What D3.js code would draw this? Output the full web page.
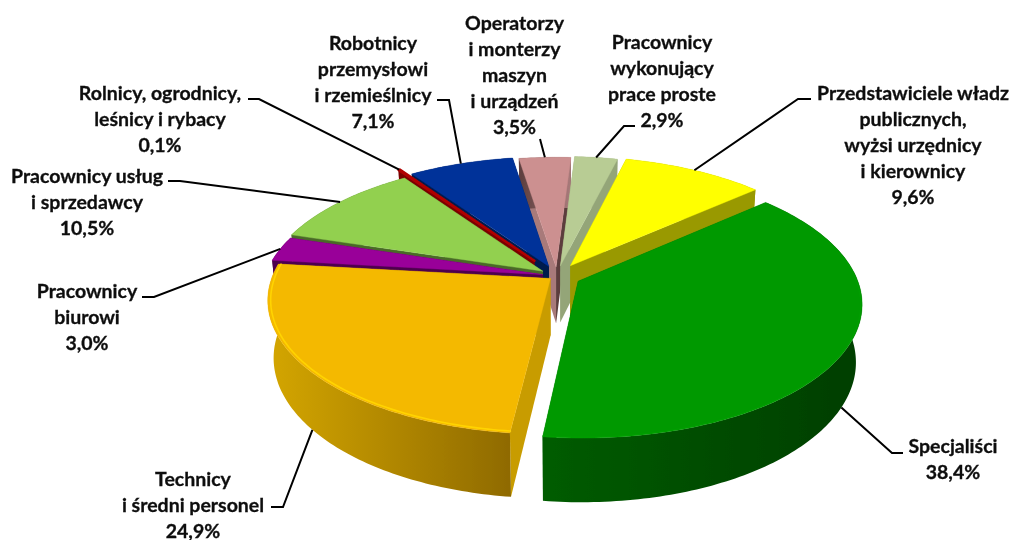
<!DOCTYPE html>
<html><head><meta charset="utf-8">
<style>html,body{margin:0;padding:0;background:#fff}svg{display:block}text{font-family:Lato,"Open Sans",sans-serif;font-weight:700;fill:#0d0d0d;stroke:#0d0d0d;stroke-width:.3px}</style>
<script src="https://cdnjs.cloudflare.com/ajax/libs/d3/7.8.5/d3.min.js"></script>
</head><body><svg id="c" width="1012" height="540"></svg>
<script>
const categories=["Przedstawiciele władz publicznych, wyżsi urzędnicy i kierownicy","Specjaliści","Technicy i średni personel","Pracownicy biurowi","Pracownicy usług i sprzedawcy","Rolnicy, ogrodnicy, leśnicy i rybacy","Robotnicy przemysłowi i rzemieślnicy","Operatorzy i monterzy maszyn i urządzeń","Pracownicy wykonujący prace proste"];
const values=[9.6,38.4,24.9,3.0,10.5,0.1,7.1,3.5,2.9];
const explode=[0.094,0.085,0.03,0.052,0.063,0.145,0.08,0.07,0.08];
const topColors=["#ffff00","#009900","#f4b900","#990099","#92d050","#b00000","#003399","#cc9090","#b8cc94"];
const sideStart=["#999900","#006600","#c89c00","#4d004d","#4a6a28","#7a0000","#001a4d","#a87a7a","#94a578"];
const sideEnd=["#999900","#006600","#c89c00","#4d004d","#4a6a28","#7a0000","#001a4d","#5b3d3d","#94a578"];
const wallLeft=["#999900","#005c00","#d4a600","#4d004d","#4a6a28","#7a0000","#001a4d","#5b3d3d","#94a578"];
const wallRight=["#999900","#003e00","#8f6a00","#4d004d","#4a6a28","#7a0000","#001a4d","#a87a7a","#94a578"];
const rimColors=[null,"#00a000","#ffd400",null,null,null,null,null,null];
const paintOrder=[7,8,0,1,6,5,4,3,2];
const labelLines=[
["Przedstawiciele władz","publicznych,","wyżsi urzędnicy","i kierownicy","9,6%"],
["Specjaliści","38,4%"],
["Technicy","i średni personel","24,9%"],
["Pracownicy","biurowi","3,0%"],
["Pracownicy usług","i sprzedawcy","10,5%"],
["Rolnicy, ogrodnicy,","leśnicy i rybacy","0,1%"],
["Robotnicy","przemysłowi","i rzemieślnicy","7,1%"],
["Operatorzy","i monterzy","maszyn","i urządzeń","3,5%"],
["Pracownicy","wykonujący","prace proste","2,9%"]];
const labelX=[913,953,193,87,87,160,373,514.5,662];
const labelY=[100,453,486,298,183,100,50,30,49];
const elbowStart=[[811,99],[903,453],[271,507],[142,297],[168,181],[248,99],[437,100],[540,139],[635,126]];
const elbowMid=[[798,99],[892,453],[283,507],[154,297],[180,181],[259,99],[449,100],null,[624,126]];
const leaderDepth=[0,1,1,0,0,0,0,0,0];
const Rx=278,Ry=130,K=0.16,Q=0.02,H=58,CX=557,CY=276,LH=26;
const svg=d3.select("#c");
const defs=svg.append("defs");
const blur=defs.append("filter").attr("id","soft").attr("x","-5%").attr("y","-5%").attr("width","110%").attr("height","110%");
blur.append("feGaussianBlur").attr("stdDeviation",0.45);
const blurT=defs.append("filter").attr("id","softT");
blurT.append("feGaussianBlur").attr("stdDeviation",0.3);
const pie=d3.pie().sort(null).startAngle(14*Math.PI/180).endAngle(374*Math.PI/180);
const arcs=pie(values);
const xs=d3.scaleLinear().domain([-1,1]).range([-Rx,Rx]);
const ys=d3.scaleLinear().domain([-1,1]).range([-Ry,Ry]);
function project(i,a,r,t){
  const d=arcs[i],mid=(d.startAngle+d.endAngle)/2,e=explode[i];
  const u=r*Math.sin(a)+e*Math.sin(mid),v=-r*Math.cos(a)-e*Math.cos(mid);
  const s=1/(1-K*v+Q*t);
  return [CX+s*xs(u),CY+s*(ys(v)+H*t)];
}
function arcPts(i,r,t,a0,a1){
  const d=arcs[i];a0=a0===undefined?d.startAngle:a0;a1=a1===undefined?d.endAngle:a1;
  const n=Math.max(2,Math.ceil((a1-a0)/(Math.PI/180)));
  return d3.range(n+1).map(k=>project(i,a0+(a1-a0)*k/n,r,t));
}
const line=d3.line();
const closed=p=>line(p)+"Z";
const pieG=svg.append("g").attr("filter","url(#soft)");
paintOrder.forEach(i=>{
  const d=arcs[i];
  const g=pieG.append("g").attr("class","slice");
  const apexT=project(i,0,0,0),apexB=project(i,0,0,1);
  g.append("path").attr("d",closed([apexT,project(i,d.startAngle,1,0),project(i,d.startAngle,1,1),apexB])).attr("fill",sideStart[i]);
  g.append("path").attr("d",closed([apexT,project(i,d.endAngle,1,0),project(i,d.endAngle,1,1),apexB])).attr("fill",sideEnd[i]);
  const gid="w"+i;
  const lg=defs.append("linearGradient").attr("id",gid).attr("x1",0).attr("x2",1).attr("y1",0).attr("y2",0);
  lg.append("stop").attr("offset",0).attr("stop-color",wallLeft[i]);
  lg.append("stop").attr("offset",1).attr("stop-color",wallRight[i]);
  g.append("path").attr("d",closed(arcPts(i,1,0).concat(arcPts(i,1,1).reverse()))).attr("fill",`url(#${gid})`);
  g.append("path").attr("d",closed([apexT].concat(arcPts(i,1,0)))).attr("fill",topColors[i])
    .attr("stroke",topColors[i]).attr("stroke-width",values[i]<1?2.4:0.4).attr("stroke-linejoin","round");
  if(rimColors[i]){
    const a0=Math.max(d.startAngle,Math.PI*1.02),a1=Math.min(d.endAngle,Math.PI*1.55);
    const rim=i===1?arcPts(i,0.995,0,Math.max(d.startAngle,Math.PI*.45)):arcPts(i,0.99,0,a0,a1);
    g.append("path").attr("d",line(rim)).attr("fill","none").attr("stroke",rimColors[i]).attr("stroke-width",i===1?1:1.6).attr("stroke-linecap","round");
  }
});
const ann=svg.append("g").attr("filter","url(#softT)");
categories.forEach((c,i)=>{
  const d=arcs[i],mid=(d.startAngle+d.endAngle)/2;
  const end=project(i,mid,1,leaderDepth[i]);
  const pts=[elbowStart[i]];if(elbowMid[i])pts.push(elbowMid[i]);pts.push(end);
  ann.append("path").attr("d",line(pts)).attr("fill","none").attr("stroke","#000").attr("stroke-width",2);
  const t=ann.append("text").attr("text-anchor","middle").attr("font-size",19.5).attr("aria-label",c);
  labelLines[i].forEach((l,k)=>t.append("tspan").attr("x",labelX[i]).attr("y",labelY[i]+k*LH).text(l));
});
</script></body></html>
